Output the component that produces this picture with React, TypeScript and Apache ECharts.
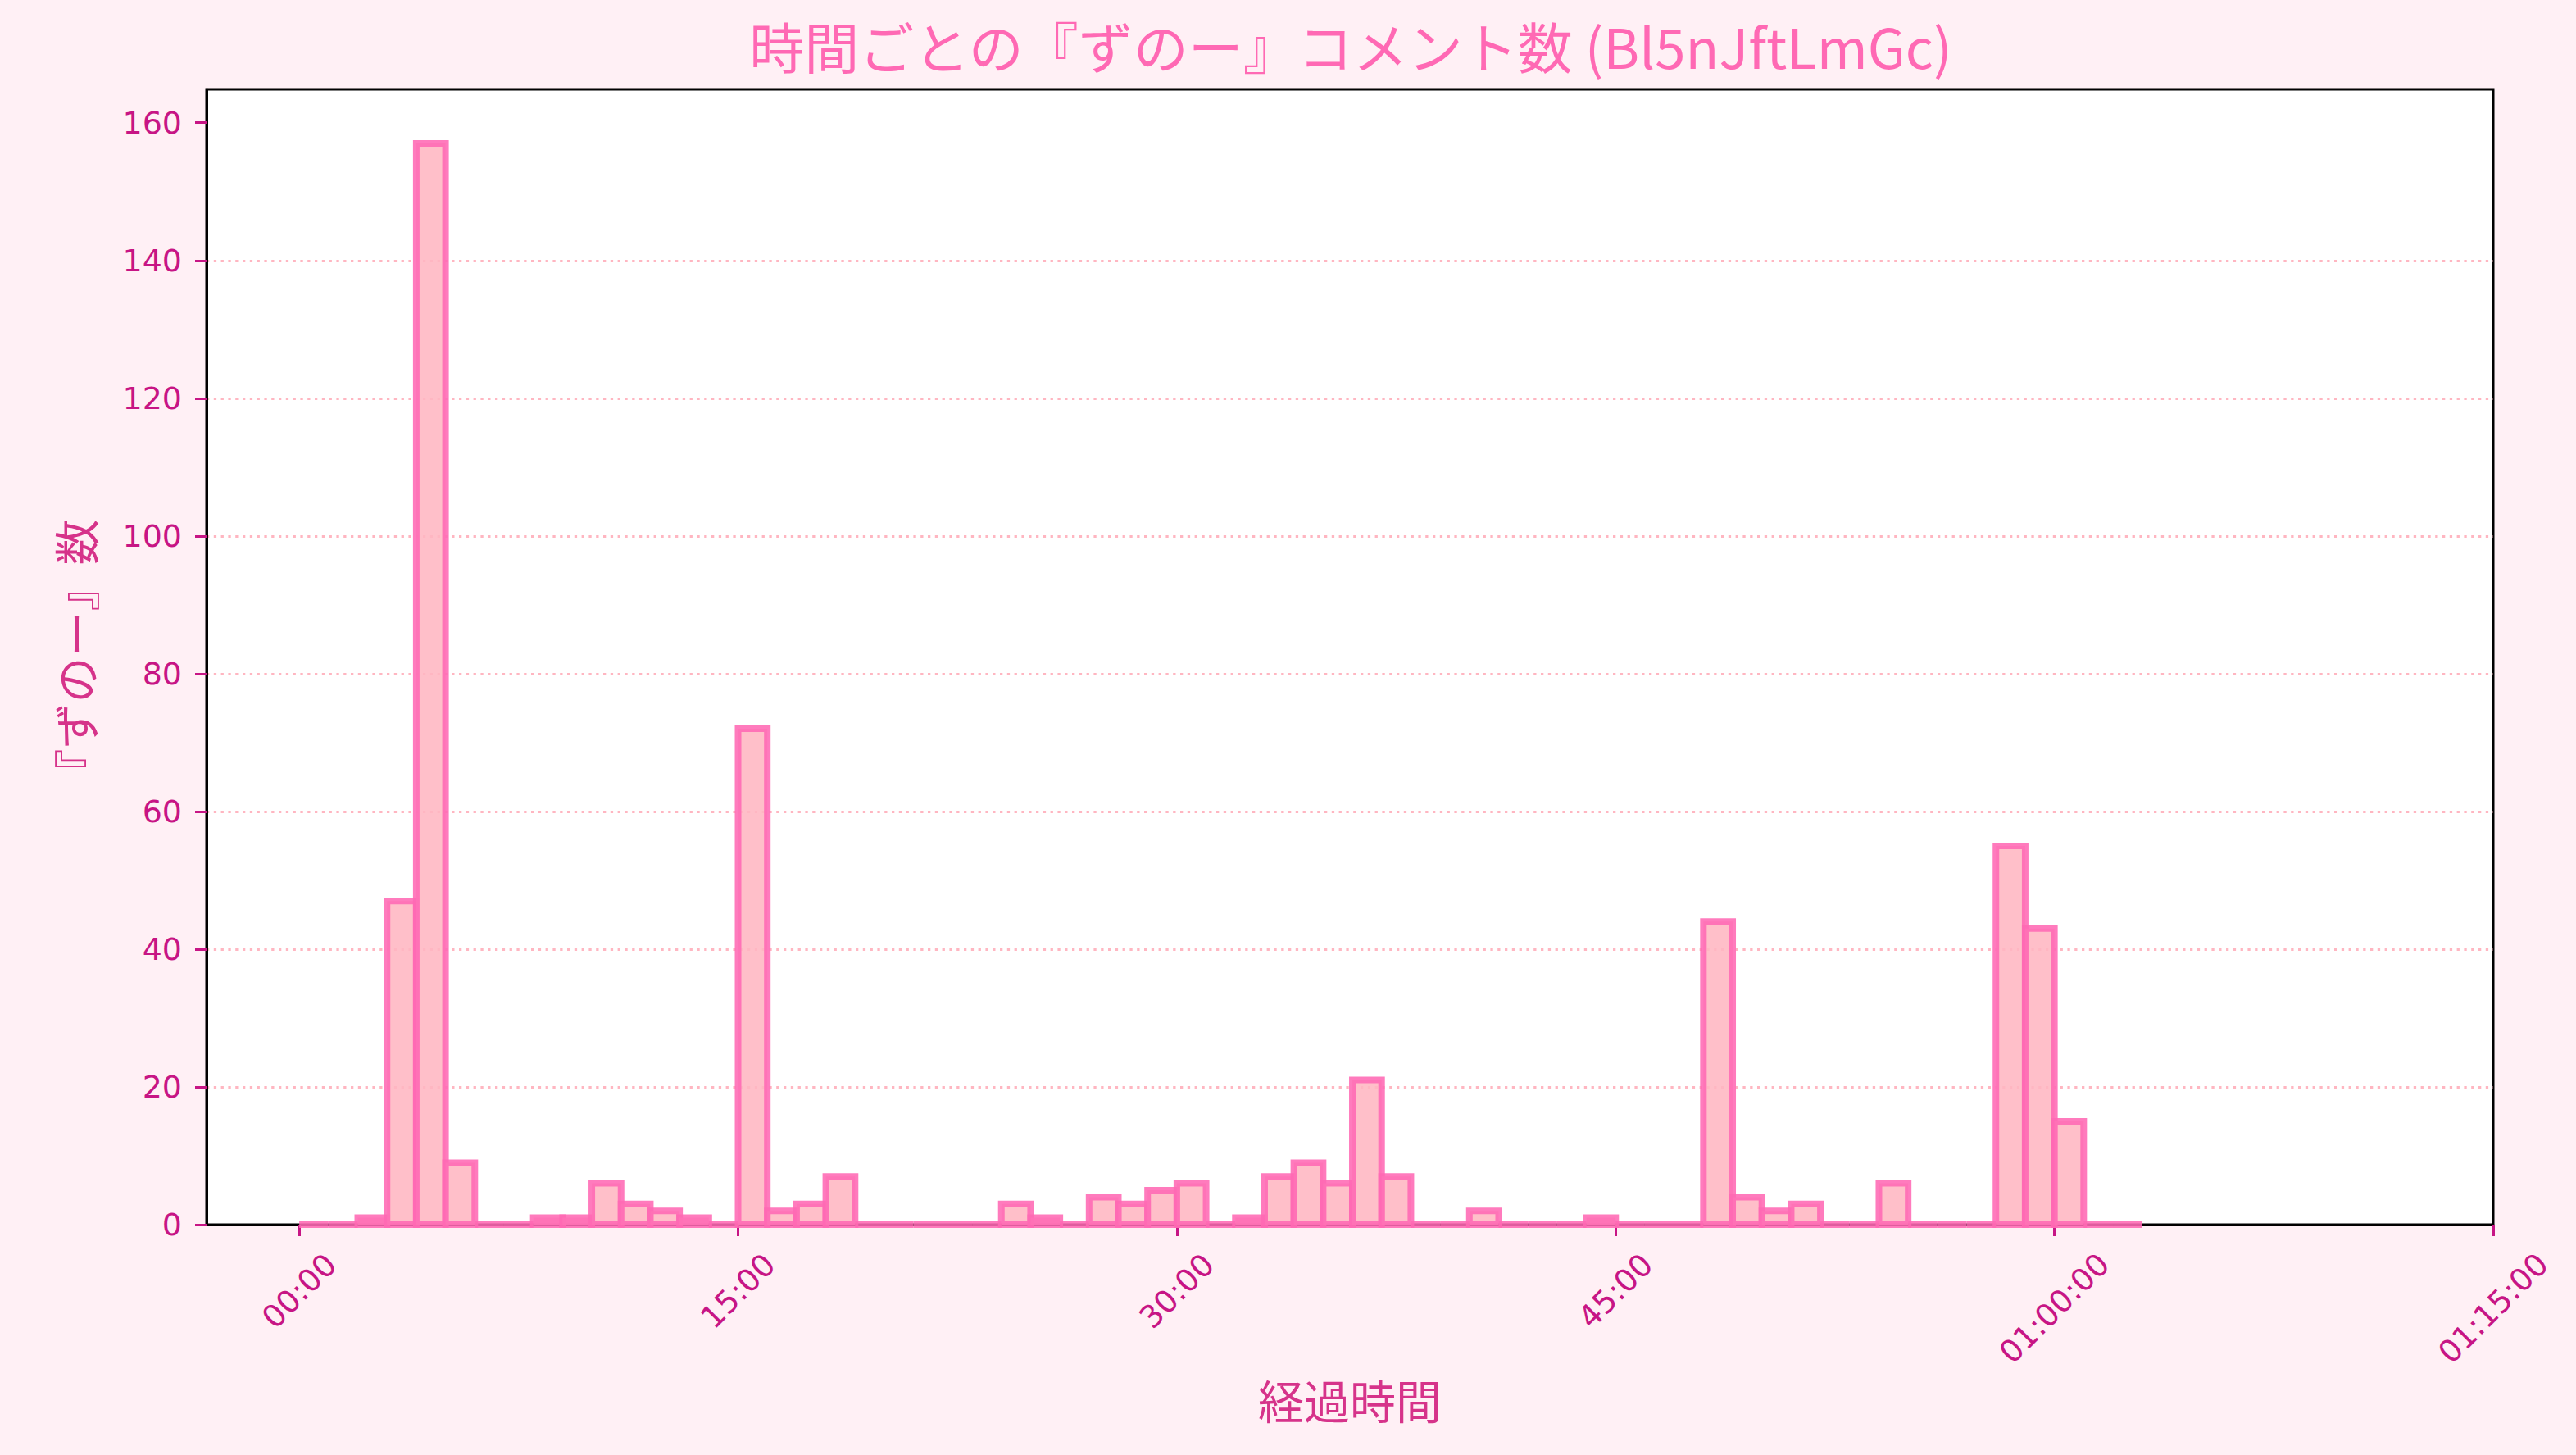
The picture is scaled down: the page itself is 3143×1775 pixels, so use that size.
import React, { useEffect, useRef } from "react";
import * as echarts from "echarts";

// Comment counts of 『ずのー』 per 1-minute bin (bin i covers minute i .. i+1)
const COUNTS = [
  0, 0, 1, 47, 157, 9, 0, 0, 1, 1,
  6, 3, 2, 1, 0, 72, 2, 3, 7, 0,
  0, 0, 0, 0, 3, 1, 0, 4, 3, 5,
  6, 0, 1, 7, 9, 6, 21, 7, 0, 0,
  2, 0, 0, 0, 1, 0, 0, 0, 44, 4,
  2, 3, 0, 0, 6, 0, 0, 0, 55, 43,
  15, 0, 0,
];
const BIN_MINUTES = 1;
const X_TICKS = [0, 15, 30, 45, 60, 75]; // minutes
const X_LABELS_SHORT = [0, 15, 30, 45];
const X_LABELS_LONG = [60, 75];
const Y_TICKS = [0, 20, 40, 60, 80, 100, 120, 140, 160];

const TITLE = "時間ごとの『ずのー』コメント数 (Bl5nJftLmGc)";
const X_NAME = "経過時間";
const Y_NAME = "『ずのー』数";

const X_MIN = -3.17;
const X_MAX = 75;
const Y_MAX = 164.85;

const pad = (n: number) => (n < 10 ? "0" + n : String(n));
const fmtTime = (m: number) => {
  const mm = Math.round(m);
  if (mm >= 60) {
    const h = Math.floor(mm / 60);
    return `${pad(h)}:${pad(mm % 60)}:00`;
  }
  return `${pad(mm)}:00`;
};

const TICK_COLOR = "#c71585";
const CJK = '"Noto Sans CJK JP", "Noto Sans CJK SC", sans-serif';
const TICK_FONT = '"DejaVu Sans", sans-serif';

export default function App() {
  const ref = useRef<HTMLDivElement>(null);
  useEffect(() => {
    if (!ref.current) return;
    const chart = echarts.init(ref.current, undefined, { renderer: "svg" });
    const data = COUNTS.map((v, i) => [i * BIN_MINUTES, (i + 1) * BIN_MINUTES, v]);
    const labelBase = {
      rotate: 45,
      align: "center",
      verticalAlign: "middle",
      color: TICK_COLOR,
      fontFamily: TICK_FONT,
      fontSize: 38,
      formatter: (v: number) => fmtTime(v),
    };
    chart.setOption({
      animation: false,
      backgroundColor: "#fff0f5",
      title: {
        text: TITLE,
        left: 1643,
        top: 16,
        textAlign: "center",
        textStyle: {
          color: "#ff69b4",
          fontFamily: CJK,
          fontSize: 67,
          fontWeight: "normal",
        },
      },
      grid: {
        left: 252,
        right: 101,
        top: 109,
        bottom: 281,
        show: true,
        backgroundColor: "#ffffff",
        borderColor: "#000000",
        borderWidth: 3,
      },
      xAxis: [
        {
          type: "value",
          min: X_MIN,
          max: X_MAX,
          position: "bottom",
          axisLine: { show: true, onZero: false, lineStyle: { color: "#000", width: 3 } },
          axisTick: {
            show: true,
            customValues: X_TICKS,
            length: 14,
            lineStyle: { color: TICK_COLOR, width: 3 },
          },
          axisLabel: { ...labelBase, customValues: X_LABELS_SHORT, margin: 81 },
          splitLine: { show: false },
          name: X_NAME,
          nameLocation: "middle",
          nameGap: 184,
          nameTextStyle: {
            color: "#d6338a",
            fontFamily: CJK,
            fontSize: 56,
            verticalAlign: "top",
          },
        },
        {
          type: "value",
          min: X_MIN,
          max: X_MAX,
          position: "bottom",
          axisLine: { show: false, onZero: false },
          axisTick: { show: false },
          axisLabel: { ...labelBase, customValues: X_LABELS_LONG, margin: 102 },
          splitLine: { show: false },
        },
      ],
      yAxis: {
        type: "value",
        min: 0,
        max: Y_MAX,
        interval: 20,
        position: "left",
        axisLine: { show: true, onZero: false, lineStyle: { color: "#000", width: 3 } },
        axisTick: {
          show: true,
          customValues: Y_TICKS,
          length: 14,
          lineStyle: { color: TICK_COLOR, width: 3 },
        },
        axisLabel: {
          customValues: Y_TICKS,
          color: TICK_COLOR,
          fontFamily: TICK_FONT,
          fontSize: 38,
          margin: 30,
        },
        splitLine: {
          show: true,
          showMinLine: false,
          showMaxLine: false,
          lineStyle: { color: "#ffb6c1", width: 3, type: [3.3, 5.5] },
        },
        name: Y_NAME,
        nameLocation: "middle",
        nameRotate: 90,
        nameGap: 134,
        nameTextStyle: {
          color: "#d6338a",
          fontFamily: CJK,
          fontSize: 56,
        },
      },
      series: [
        {
          type: "custom",
          xAxisIndex: 0,
          yAxisIndex: 0,
          encode: { x: [0, 1], y: 2 },
          data,
          renderItem: (params: any, api: any) => {
            const p0 = api.coord([api.value(0), api.value(2)]);
            const p1 = api.coord([api.value(1), 0]);
            return {
              type: "rect",
              shape: { x: p0[0], y: p0[1], width: p1[0] - p0[0], height: p1[1] - p0[1] },
              style: { fill: "#ffb6c1", stroke: "#ff69b4", lineWidth: 8, opacity: 0.88 },
            };
          },
        },
      ],
    });
    return () => chart.dispose();
  }, []);
  return (
    <div
      ref={ref}
      style={{ position: "fixed", left: 0, top: 0, width: "3143px", height: "1775px" }}
    />
  );
}
